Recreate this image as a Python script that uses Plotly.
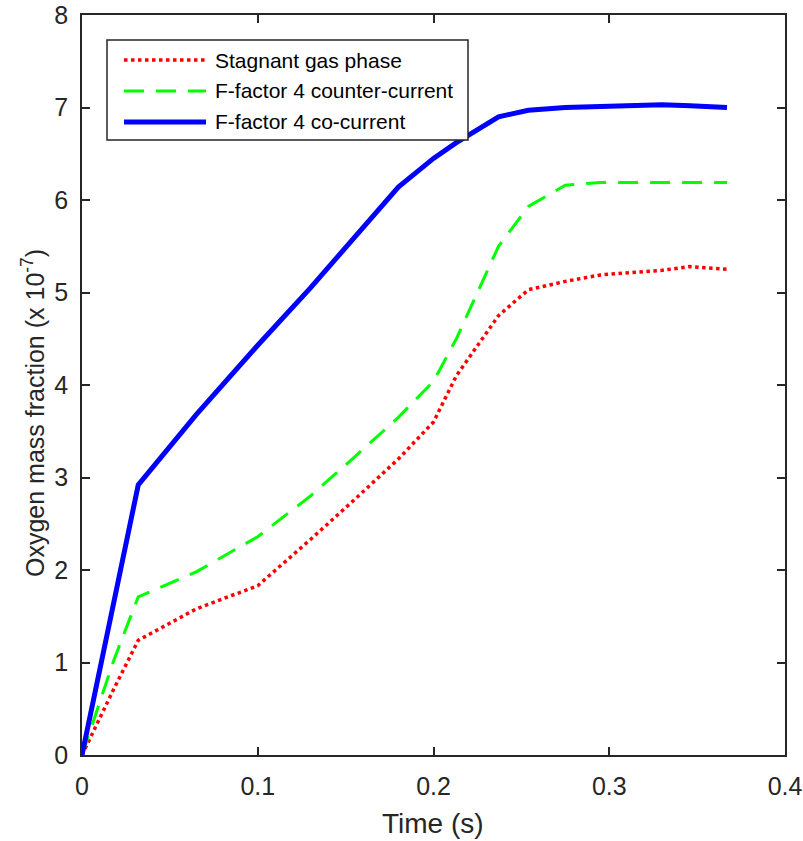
import plotly.graph_objects as go

# Sample times (s)
time_s = [0, 0.018, 0.032, 0.065, 0.1, 0.13, 0.155, 0.18, 0.2, 0.213,
          0.237, 0.254, 0.275, 0.295, 0.315, 0.33, 0.346, 0.367]

# Oxygen mass fraction (x 1e-7)
stagnant = [0, 0.71, 1.24, 1.58, 1.83, 2.33, 2.76, 3.2, 3.6, 4.1,
            4.75, 5.03, 5.12, 5.19, 5.22, 5.24, 5.28, 5.25]
counter_current = [0, 1.02, 1.71, 1.98, 2.36, 2.8, 3.22, 3.65, 4.04, 4.5,
                   5.5, 5.93, 6.16, 6.19, 6.19, 6.19, 6.19, 6.19]
co_current = [0, 1.64, 2.92, 3.68, 4.43, 5.05, 5.6, 6.14, 6.45, 6.62,
              6.9, 6.97, 7.0, 7.01, 7.03, 7.03, 7.02, 7.0]

series_names = ["Stagnant gas phase", "F-factor 4 counter-current", "F-factor 4 co-current"]
series_values = [stagnant, counter_current, co_current]

x_ticks = [0, 0.1, 0.2, 0.3, 0.4]
y_ticks = list(range(0, 9))

FONT = "Liberation Sans, Arial, Helvetica, sans-serif"
AXIS_COLOR = "#262626"
STYLES = [
    dict(color="#ff0000", width=3.5, dash="dot"),
    dict(color="#00ff00", width=3, dash="20px,12px"),
    dict(color="#0000ff", width=5, dash="solid"),
]

W, H = 803, 841
M = dict(l=82, r=18, t=15, b=86)
PW = W - M["l"] - M["r"]
PH = H - M["t"] - M["b"]


def px_to_paper(px, py):
    """Convert page pixel position to paper coordinates."""
    return (px - M["l"]) / PW, (H - M["b"] - py) / PH


fig = go.Figure()
for name, vals, style in zip(series_names, series_values, STYLES):
    fig.add_trace(go.Scatter(x=time_s, y=vals, mode="lines", name=name,
                             line=style, showlegend=False))

axis_common = dict(
    showgrid=False, zeroline=False,
    showline=True, linecolor=AXIS_COLOR, linewidth=1.5,
    mirror="ticks", ticks="inside", ticklen=8, tickwidth=1.5,
    tickcolor=AXIS_COLOR,
    tickfont=dict(family=FONT, size=25, color=AXIS_COLOR),
    automargin=False,
)

fig.update_xaxes(range=[0, 0.4], tickvals=x_ticks,
                 ticktext=[f"{v:g}" for v in x_ticks], ticklabelstandoff=8,
                 **axis_common)
fig.update_yaxes(range=[0, 8], tickvals=y_ticks, ticklabelstandoff=7, **axis_common)

# x-axis label
tx, ty = px_to_paper(433, 823)
fig.add_annotation(xref="paper", yref="paper", x=tx, y=ty, showarrow=False,
                   xanchor="center", yanchor="middle", text="Time (s)",
                   font=dict(family=FONT, size=28, color=AXIS_COLOR))

# y-axis label
tx, ty = px_to_paper(33, 413)
fig.add_annotation(xref="paper", yref="paper", x=tx, y=ty, showarrow=False,
                   textangle=-90, xanchor="center", yanchor="middle",
                   text="Oxygen mass fraction (x 10<sup>-7</sup>)",
                   font=dict(family=FONT, size=25, color=AXIS_COLOR))

# Legend box with line samples and labels
bx0, by0 = px_to_paper(107, 40)
bx1, by1 = px_to_paper(468, 140)
fig.add_shape(type="rect", xref="paper", yref="paper", x0=bx0, y0=by1, x1=bx1, y1=by0,
              line=dict(color=AXIS_COLOR, width=1.5), fillcolor="white", layer="above")
for i, (name, style) in enumerate(zip(series_names, STYLES)):
    row_y = 60 + 31 * i
    lx0, ly = px_to_paper(124, row_y)
    lx1, _ = px_to_paper(206, row_y)
    fig.add_shape(type="line", xref="paper", yref="paper", x0=lx0, y0=ly, x1=lx1, y1=ly,
                  line=style, layer="above")
    tx, _ = px_to_paper(213, row_y)
    fig.add_annotation(xref="paper", yref="paper", x=tx, y=ly, showarrow=False,
                       xanchor="left", yanchor="middle", text=name,
                       font=dict(family=FONT, size=21, color="#000000"))

fig.update_layout(
    width=W, height=H,
    margin=M,
    paper_bgcolor="white", plot_bgcolor="white",
    font=dict(family=FONT, color=AXIS_COLOR),
    showlegend=False,
)

fig.write_html("out.html")
